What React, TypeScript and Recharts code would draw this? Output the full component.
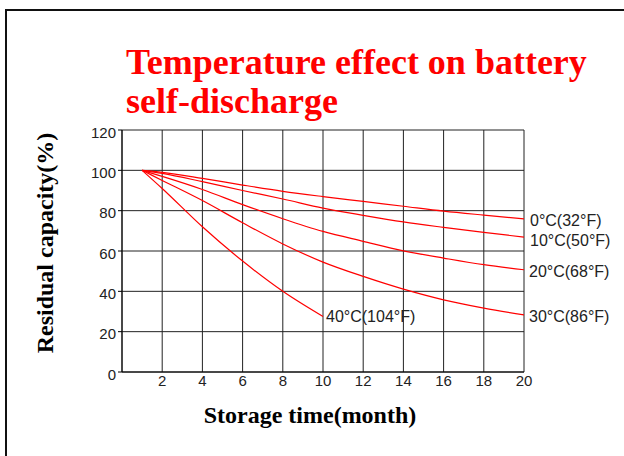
import React from "react";
import {
  LineChart,
  Line,
  XAxis,
  YAxis,
  CartesianGrid,
} from "recharts";

const months = [1, 2, 4, 6, 8, 10, 12, 14, 16, 18, 20];
const months40 = [1, 2, 4, 6, 8, 10];

// residual capacity (%)
const cap0C = [100, 99, 96, 92.7, 89.6, 87, 84.6, 82.2, 79.8, 77.8, 75.9];
const cap10C = [100, 98.5, 94.4, 90, 85.8, 81.3, 77.7, 74.4, 71.7, 69.2, 66.9];
const cap20C = [100, 97, 90.5, 83, 76, 69.7, 64.8, 60.1, 56.5, 53.2, 50.7];
const cap30C = [100, 95, 85, 74, 63.5, 54.5, 47.4, 41.1, 35.8, 31.7, 28.3];
const cap40C = [100, 91, 72, 55, 40, 27.5];

const seriesNames = [
  "0°C(32°F)",
  "10°C(50°F)",
  "20°C(68°F)",
  "30°C(86°F)",
  "40°C(104°F)",
];

const xTicks = [2, 4, 6, 8, 10, 12, 14, 16, 18, 20];
const yTicks = [0, 20, 40, 60, 80, 100, 120];

const toRows = (xs: number[], ys: number[]) =>
  xs.map((m, i) => ({ month: m, value: ys[i] }));

const series = [
  { name: seriesNames[0], data: toRows(months, cap0C), dx: 6, dy: 1.5 },
  { name: seriesNames[1], data: toRows(months, cap10C), dx: 6, dy: 3.5 },
  { name: seriesNames[2], data: toRows(months, cap20C), dx: 5, dy: 1 },
  { name: seriesNames[3], data: toRows(months, cap30C), dx: 5, dy: 1 },
  { name: seriesNames[4], data: toRows(months40, cap40C), dx: 3, dy: 0 },
];

const RED = "#ff0000";
const GRID = "#222";
const SANS = "'Liberation Sans', Arial, sans-serif";
const SERIF = "'Liberation Serif', 'Times New Roman', serif";

// only the last point of each curve gets its temperature label
const endLabel =
  (name: string, last: number, dx: number, dy: number) =>
  (props: any) => {
    if (props.index !== last) return <g />;
    return (
      <text
        x={props.x + dx}
        y={props.y + dy}
        dy="0.36em"
        fontSize={16}
        fontFamily={SANS}
        fill="#222"
      >
        {name}
      </text>
    );
  };

const XTick = (props: any) => (
  <text
    x={props.x}
    y={props.y}
    dy="0.75em"
    textAnchor="middle"
    fontSize={15}
    fontFamily={SANS}
    fill="#222"
  >
    {props.payload.value}
  </text>
);

const YTick = (props: any) => (
  <text
    x={props.x}
    y={props.y}
    dy="0.5em"
    textAnchor="end"
    fontSize={15}
    fontFamily={SANS}
    fill="#222"
  >
    {props.payload.value}
  </text>
);

export default function App() {
  return (
    <div
      style={{
        position: "fixed",
        left: 0,
        top: 0,
        width: 624,
        height: 456,
        overflow: "hidden",
        background: "#fff",
      }}
    >
      <LineChart
        width={624}
        height={456}
        margin={{ top: 130, right: 100, bottom: 0, left: 0 }}
      >
        <CartesianGrid stroke={GRID} strokeWidth={1} />
        <XAxis
          type="number"
          dataKey="month"
          domain={[0, 20]}
          ticks={xTicks}
          allowDataOverflow
          height={84}
          tickLine={false}
          tickSize={0}
          tickMargin={3}
          axisLine={{ stroke: "#000" }}
          tick={XTick}
        />
        <YAxis
          type="number"
          domain={[0, 120]}
          ticks={yTicks}
          width={122}
          tickSize={4}
          tickMargin={2}
          tickLine={{ stroke: "#000" }}
          axisLine={{ stroke: "#000" }}
          tick={YTick}
        />
        {series.map((s) => (
          <Line
            key={s.name}
            data={s.data}
            dataKey="value"
            type="monotone"
            stroke={RED}
            strokeWidth={1.2}
            dot={false}
            activeDot={false}
            isAnimationActive={false}
            label={endLabel(s.name, s.data.length - 1, s.dx, s.dy)}
          />
        ))}
      </LineChart>

      <div
        style={{
          position: "absolute",
          left: 126,
          top: 43,
          fontFamily: SERIF,
          fontWeight: "bold",
          fontSize: 36,
          lineHeight: "39px",
          color: RED,
          whiteSpace: "nowrap",
        }}
      >
        Temperature effect on battery
        <br />
        self-discharge
      </div>

      <div
        style={{
          position: "absolute",
          left: 160,
          top: 403,
          width: 300,
          textAlign: "center",
          fontFamily: SERIF,
          fontWeight: "bold",
          fontSize: 24,
          lineHeight: "24px",
          color: "#000",
          whiteSpace: "nowrap",
        }}
      >
        Storage time(month)
      </div>

      <div
        style={{
          position: "absolute",
          left: -105,
          top: 228,
          width: 300,
          height: 30,
          lineHeight: "30px",
          textAlign: "center",
          fontFamily: SERIF,
          fontWeight: "bold",
          fontSize: 24,
          color: "#000",
          whiteSpace: "nowrap",
          transform: "rotate(-90deg)",
        }}
      >
        Residual capacity(%)
      </div>

      <div
        style={{
          position: "absolute",
          left: 5,
          top: 9,
          width: 700,
          height: 600,
          border: "2px solid #111",
          pointerEvents: "none",
        }}
      />
    </div>
  );
}
